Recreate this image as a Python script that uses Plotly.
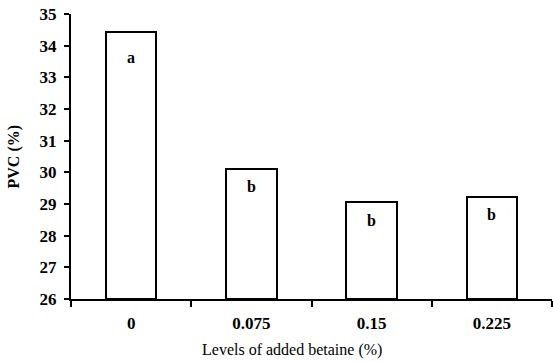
import plotly.graph_objects as go

categories = ["0", "0.075", "0.15", "0.225"]
pvc_values = [34.42, 30.11, 29.05, 29.23]
letters = ["a", "b", "b", "b"]
y_ticks = [26, 27, 28, 29, 30, 31, 32, 33, 34, 35]

FONT = "Liberation Serif"

fig = go.Figure()
fig.add_trace(go.Bar(
    x=list(range(len(categories))),
    y=[v - 26 for v in pvc_values],
    base=26,
    width=0.42,
    marker=dict(color="white", line=dict(color="black", width=2)),
    showlegend=False,
    hoverinfo="skip",
))

for i, (v, l) in enumerate(zip(pvc_values, letters)):
    fig.add_annotation(x=i, y=v, text="<b>%s</b>" % l, showarrow=False,
                       yanchor="middle", yshift=-18 if i else -25,
                       font=dict(family=FONT, size=16, color="black"))

# x-axis title
fig.add_annotation(x=0.46, xref="paper", y=-0.179, yref="paper",
                   text="Levels of added betaine (%)", showarrow=False,
                   yanchor="middle", font=dict(family=FONT, size=16, color="black"))
# y-axis title
fig.add_annotation(x=0, xref="paper", xshift=-58, y=0.5, yref="paper",
                   text="<b>PVC (%)</b>", showarrow=False, textangle=-90,
                   xanchor="center", yanchor="middle",
                   font=dict(family=FONT, size=16, color="black"))

fig.update_layout(
    width=553, height=362,
    margin=dict(l=71, r=1, t=14, b=63, autoexpand=False),
    plot_bgcolor="white", paper_bgcolor="white",
    font=dict(family=FONT, size=17, color="black"),
    bargap=0,
)
fig.update_xaxes(
    range=[-0.5, 3.5],
    tickvals=[0, 1, 2, 3],
    ticktext=["<b>%s</b>" % c for c in categories],
    ticks="", showline=True, linecolor="black", linewidth=2,
    showgrid=False, zeroline=False, ticklabelstandoff=8,
    tickfont=dict(family=FONT, size=17),
    minor=dict(tickvals=[-0.5, 0.5, 1.5, 2.5, 3.5], ticks="outside",
               ticklen=6, tickwidth=2, tickcolor="black", showgrid=False),
)
fig.update_yaxes(
    range=[26, 35],
    tickvals=y_ticks,
    ticktext=["<b>%d</b>" % t for t in y_ticks],
    ticks="outside", ticklen=5, tickwidth=2, tickcolor="black",
    showline=True, linecolor="black", linewidth=2,
    showgrid=False, zeroline=False, ticklabelstandoff=4,
    tickfont=dict(family=FONT, size=17),
)

fig.write_html("out.html",
               config={"displayModeBar": False},
               post_script="document.body.style.margin='0';document.body.style.overflow='hidden';")
